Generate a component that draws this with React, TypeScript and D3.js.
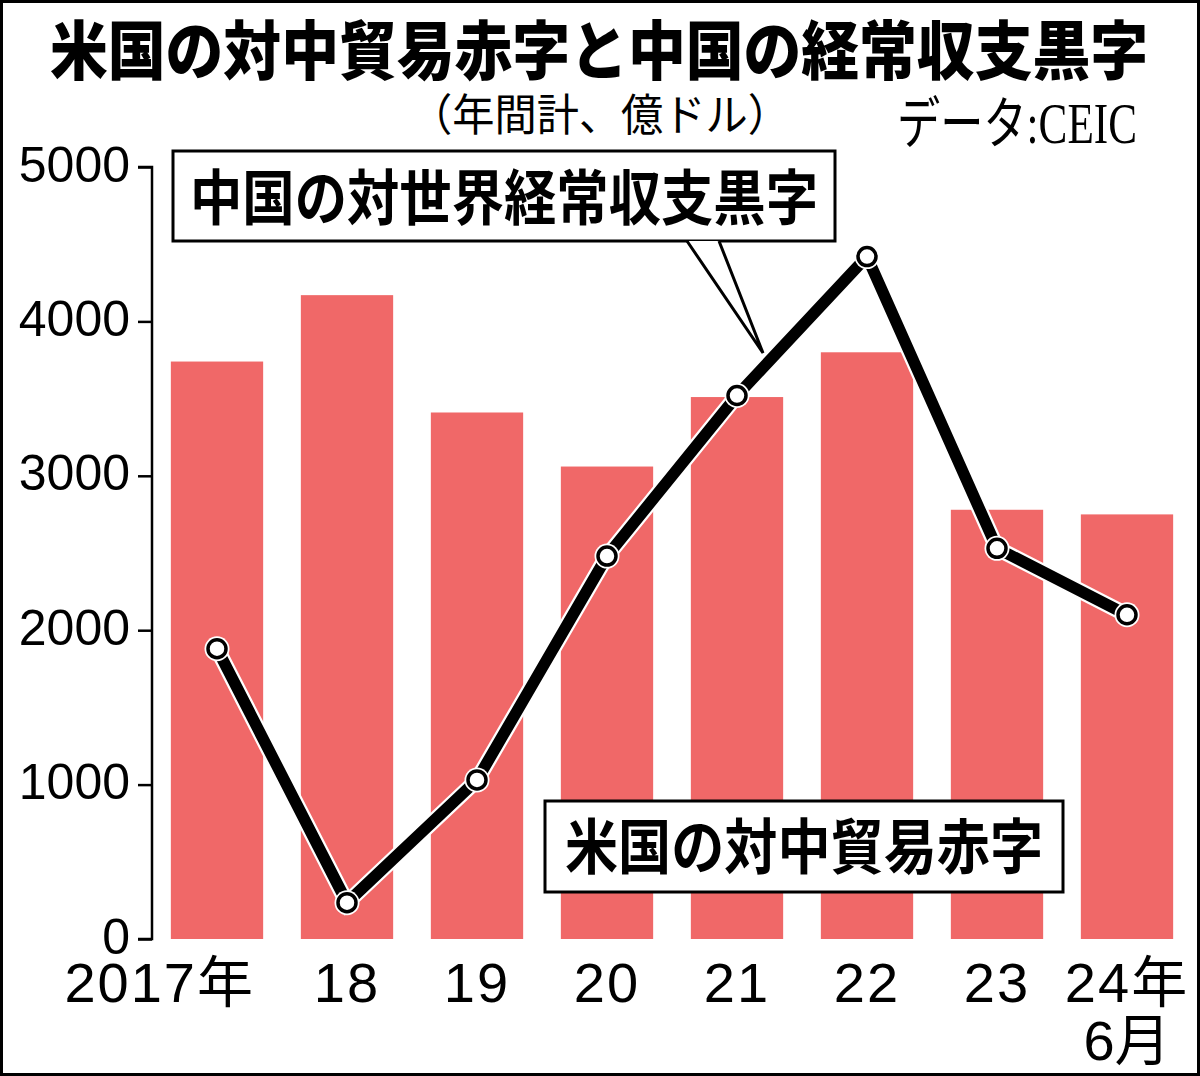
import React, { useEffect, useRef } from 'react';
import * as d3 from 'd3';

// Chart values (億ドル)
const years = ['2017', '2018', '2019', '2020', '2021', '2022', '2023', '2024'];
const tradeDeficit = [3740, 4170, 3410, 3060, 3510, 3800, 2780, 2750];
const currentSurplus = [1880, 235, 1030, 2480, 3520, 4420, 2530, 2100];
const xLabels = ['2017年', '18', '19', '20', '21', '22', '23', '24年'];
const yTicks = [0, 1000, 2000, 3000, 4000, 5000];

const title = '米国の対中貿易赤字と中国の経常収支黒字';
const subtitle = '（年間計、億ドル）';
const source = 'データ:CEIC';
const surplusLabel = '中国の対世界経常収支黒字';
const deficitLabel = '米国の対中貿易赤字';

const W = 1200;
const H = 1076;
const JP = '"Noto Sans CJK JP", sans-serif';
const NUM = '"Liberation Sans", "Noto Sans CJK JP", sans-serif';

const App = () => {
    const svgRef = useRef<SVGSVGElement>(null);

    useEffect(() => {
        const svg = d3.select(svgRef.current);
        svg.selectAll('*').remove();

        // Scales
        const x = d3.scaleBand<string>()
            .domain(years)
            .range([152, 1192])
            .paddingInner(0.29)
            .paddingOuter(0.145);
        const y = d3.scaleLinear().domain([0, 5000]).range([939, 167]);
        const cx = (d: string) => (x(d) as number) + x.bandwidth() / 2;

        // Background and outer frame
        svg.append('rect').attr('width', W).attr('height', H).attr('fill', 'white');
        svg.append('rect')
            .attr('x', 1.5).attr('y', 1.5)
            .attr('width', W - 3).attr('height', H - 3)
            .attr('fill', 'none').attr('stroke', 'black').attr('stroke-width', 3);

        // Title block
        svg.append('text')
            .attr('x', 50).attr('y', 74)
            .attr('font-family', JP).attr('font-weight', 900)
            .attr('font-size', 64)
            .attr('textLength', 1098).attr('lengthAdjust', 'spacingAndGlyphs')
            .text(title);
        svg.append('text')
            .attr('x', 410).attr('y', 131)
            .attr('font-family', JP).attr('font-size', 44)
            .attr('textLength', 380).attr('lengthAdjust', 'spacingAndGlyphs')
            .text(subtitle);
        svg.append('text')
            .attr('x', 897).attr('y', 143)
            .attr('font-family', '"Liberation Serif", "Noto Sans CJK JP", serif')
            .attr('font-size', 56)
            .attr('textLength', 240).attr('lengthAdjust', 'spacingAndGlyphs')
            .text(source);

        // Bars
        svg.append('g')
            .selectAll('rect')
            .data(years)
            .enter()
            .append('rect')
            .attr('x', d => x(d) as number)
            .attr('width', x.bandwidth())
            .attr('y', (d, i) => y(tradeDeficit[i]))
            .attr('height', (d, i) => y(0) - y(tradeDeficit[i]))
            .attr('fill', '#f06868');

        // Y axis
        const yAxis = d3.axisLeft(y)
            .tickValues(yTicks)
            .tickSize(14)
            .tickPadding(8)
            .tickFormat(d3.format('d'));
        const ya = svg.append('g').attr('transform', 'translate(152,0)').call(yAxis);
        ya.select('.domain').attr('stroke', 'black').attr('stroke-width', 2.5)
            .attr('d', `M-14,${y(5000)}H0V${y(0)}H-14`);
        ya.selectAll('.tick line').attr('stroke', 'black').attr('stroke-width', 2.5);
        ya.selectAll('.tick text')
            .attr('font-family', NUM).attr('font-size', 50)
            .attr('fill', 'black').attr('dy', '0.28em');

        // X labels
        const xl = svg.append('g');
        xl.selectAll('text')
            .data(years)
            .enter()
            .append('text')
            .attr('x', (d, i) => (i === 0 ? cx(d) + 38 : cx(d)))
            .attr('y', 1002)
            .attr('text-anchor', (d, i) => (i === 0 ? 'end' : 'middle'))
            .attr('font-family', NUM).attr('font-size', 56)
            .attr('letter-spacing', 2)
            .text((d, i) => xLabels[i]);
        xl.append('text')
            .attr('x', cx(years[7])).attr('y', 1060)
            .attr('text-anchor', 'middle')
            .attr('font-family', NUM).attr('font-size', 56)
            .text('6月');

        // Callout box for the line series
        const box1 = svg.append('g');
        box1.append('rect')
            .attr('x', 173).attr('y', 151).attr('width', 662).attr('height', 90)
            .attr('fill', 'white').attr('stroke', 'black').attr('stroke-width', 3);
        const tip: [number, number] = [763, 353];
        box1.append('path')
            .attr('d', `M687,241L${tip[0]},${tip[1]}L719,241Z`)
            .attr('fill', 'white').attr('stroke', 'none');
        box1.append('path')
            .attr('d', `M687,241L${tip[0]},${tip[1]}L719,241`)
            .attr('fill', 'none').attr('stroke', 'black').attr('stroke-width', 3)
            .attr('stroke-linejoin', 'miter');
        box1.append('text')
            .attr('x', 190).attr('y', 220)
            .attr('font-family', JP).attr('font-weight', 700).attr('font-size', 60)
            .attr('textLength', 628).attr('lengthAdjust', 'spacingAndGlyphs')
            .text(surplusLabel);

        // Line series with white halo
        const line = d3.line<number>()
            .x((d, i) => cx(years[i]))
            .y(d => y(d));
        svg.append('path')
            .datum(currentSurplus)
            .attr('d', line)
            .attr('fill', 'none').attr('stroke', 'white')
            .attr('stroke-width', 16).attr('stroke-linejoin', 'miter');
        svg.append('path')
            .datum(currentSurplus)
            .attr('d', line)
            .attr('fill', 'none').attr('stroke', 'black')
            .attr('stroke-width', 11.5).attr('stroke-linejoin', 'miter');

        // Markers
        const pts = svg.append('g')
            .selectAll('g')
            .data(currentSurplus)
            .enter()
            .append('g')
            .attr('transform', (d, i) => `translate(${cx(years[i])},${y(d)})`);
        pts.append('circle').attr('r', 12.5).attr('fill', 'white');
        pts.append('circle').attr('r', 9).attr('fill', 'white')
            .attr('stroke', 'black').attr('stroke-width', 3.5);

        // Label box for the bar series
        const box2 = svg.append('g');
        box2.append('rect')
            .attr('x', 545).attr('y', 801).attr('width', 518).attr('height', 91)
            .attr('fill', 'white').attr('stroke', 'black').attr('stroke-width', 3);
        box2.append('text')
            .attr('x', 565).attr('y', 869)
            .attr('font-family', JP).attr('font-weight', 700).attr('font-size', 60)
            .attr('textLength', 478).attr('lengthAdjust', 'spacingAndGlyphs')
            .text(deficitLabel);
    }, []);

    return (
        <svg
            ref={svgRef}
            width={W}
            height={H}
            style={{ position: 'absolute', left: 0, top: 0, display: 'block' }}
        />
    );
};

export default App;
